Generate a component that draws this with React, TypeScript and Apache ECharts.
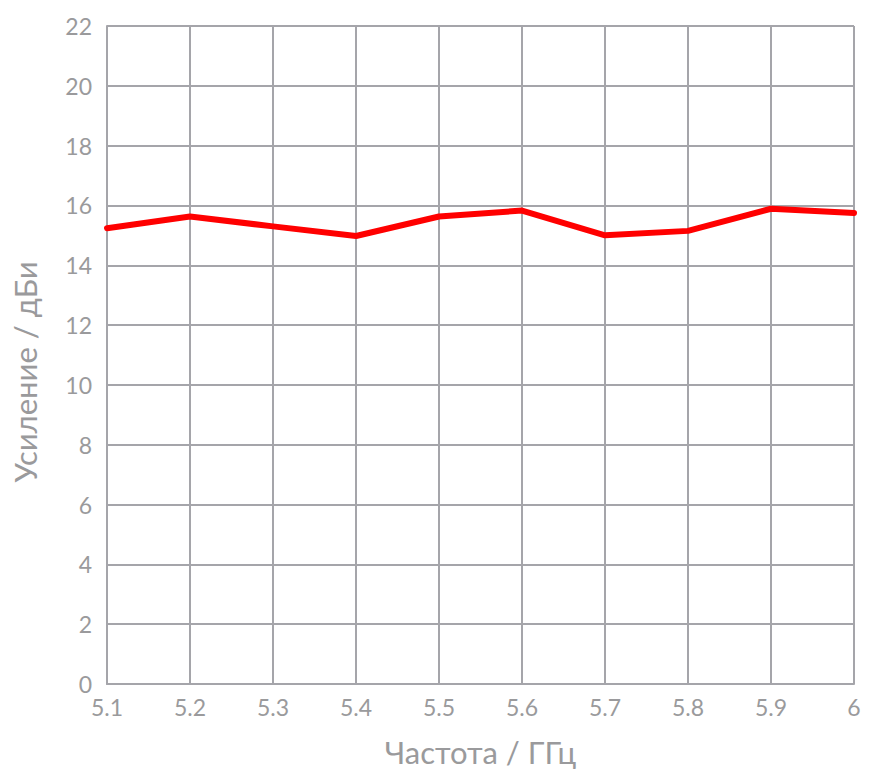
import React, { useEffect, useRef } from "react";
import * as echarts from "echarts";

const categories = ["5.1", "5.2", "5.3", "5.4", "5.5", "5.6", "5.7", "5.8", "5.9", "6"];
const gainValues = [15.24, 15.63, 15.3, 14.98, 15.63, 15.83, 15.0, 15.15, 15.89, 15.75];
const xTitle = "Частота / ГГц";
const yTitle = "Усиление / дБи";

const FONT = "Lato, 'Open Sans', sans-serif";
const GREY_TEXT = "#9a9a9c";
const GRID = "#a5a5aa";

export default function App() {
  const ref = useRef<HTMLDivElement>(null);
  useEffect(() => {
    document.body.style.margin = "0";
    const chart = echarts.init(ref.current!, null, { renderer: "svg" });
    chart.setOption({
      animation: false,
      backgroundColor: "#ffffff",
      grid: { left: 107, right: 18, top: 26, bottom: 92, containLabel: false, outerBoundsMode: "none" },
      xAxis: {
        type: "category",
        data: categories,
        boundaryGap: false,
        name: xTitle,
        nameLocation: "middle",
        nameGap: 52,
        nameTextStyle: { color: GREY_TEXT, fontSize: 31, fontFamily: FONT },
        axisLine: { show: true, lineStyle: { color: GRID, width: 2 } },
        axisTick: { show: false },
        axisLabel: { color: GREY_TEXT, fontSize: 23, fontFamily: FONT, margin: 11 },
        splitLine: { show: true, lineStyle: { color: GRID, width: 2 } },
      },
      yAxis: {
        type: "value",
        min: 0,
        max: 22,
        interval: 2,
        name: yTitle,
        nameLocation: "middle",
        nameGap: 67,
        nameTextStyle: { color: GREY_TEXT, fontSize: 31, fontFamily: FONT, padding: [0, 34, 0, 0] },
        axisLine: { show: true, lineStyle: { color: GRID, width: 2 } },
        axisTick: { show: false },
        axisLabel: { color: GREY_TEXT, fontSize: 23, fontFamily: FONT, margin: 15 },
        splitLine: { show: true, lineStyle: { color: GRID, width: 2 } },
      },
      series: [
        {
          type: "line",
          data: gainValues,
          symbol: "none",
          lineStyle: { color: "#ff0000", width: 6, cap: "round", join: "round" },
        },
      ],
    });
    return () => chart.dispose();
  }, []);
  return <div ref={ref} style={{ width: 872, height: 776 }} />;
}
